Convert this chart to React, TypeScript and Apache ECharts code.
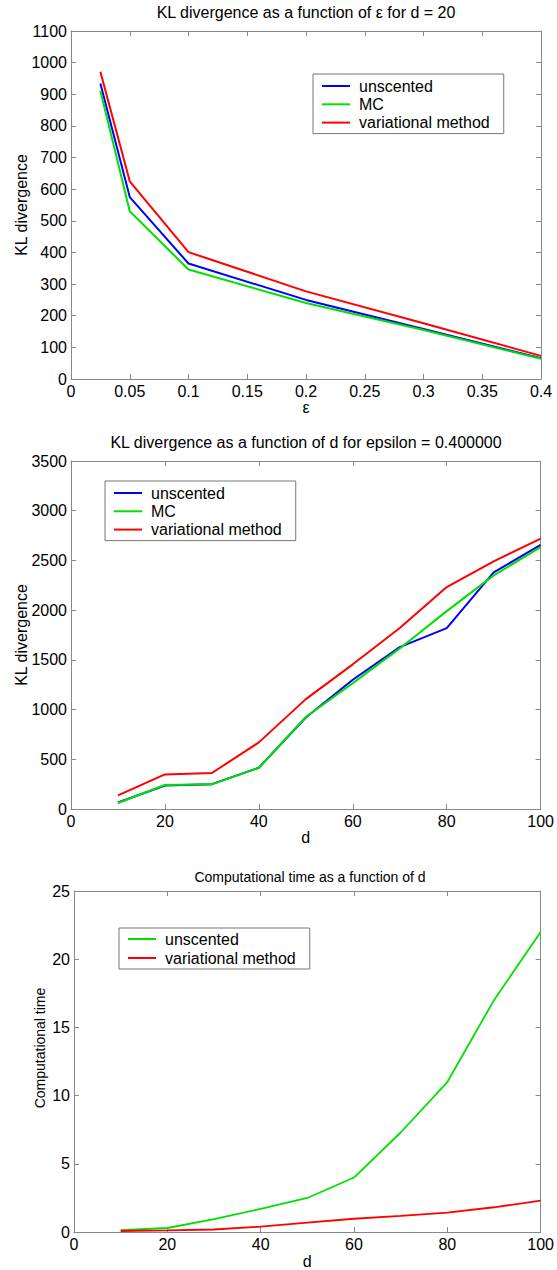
import React, { useEffect, useRef } from "react";
import * as echarts from "echarts";

// ---- data ----
const epsValues = [0.025, 0.05, 0.1, 0.2, 0.3, 0.4];
const klEpsUnscented = [934, 575, 365, 250, 158, 66];
const klEpsMC = [911, 530, 346, 240, 155, 64];
const klEpsVariational = [971, 625, 401, 277, 176, 73];

const dValues = [10, 20, 30, 40, 50, 60, 70, 80, 90, 100];
const klDUnscented = [65, 236, 250, 415, 920, 1300, 1628, 1819, 2380, 2656];
const klDMC = [60, 241, 248, 415, 925, 1266, 1615, 1990, 2350, 2633];
const klDVariational = [137, 348, 362, 670, 1105, 1455, 1820, 2232, 2490, 2720];

const timeUnscented = [0.15, 0.3, 0.95, 1.7, 2.5, 4.0, 7.3, 11.0, 17.0, 22.0];
const timeVariational = [0.08, 0.13, 0.19, 0.4, 0.69, 0.98, 1.19, 1.43, 1.82, 2.3];

const titles = [
  "KL divergence as a function of \u03b5 for d = 20",
  "KL divergence as a function of d for epsilon = 0.400000",
  "Computational time as a function of d",
];
const xNames = ["\u03b5", "d", "d"];
const yNames = ["KL divergence", "KL divergence", "Computational time"];

const FONT = "'Liberation Sans', Arial, Helvetica, sans-serif";
const AXIS_GRAY = "#888888";
const BLUE = "#0000ff";
const GREEN = "#00e000";
const RED = "#ff0000";

const pairs = (xs: number[], ys: number[]) => xs.map((x, i) => [x, ys[i]]);

const grids = [
  { left: 71, top: 31, width: 470, height: 348 },
  { left: 71, top: 461, width: 470, height: 348 },
  { left: 74, top: 891, width: 470, height: 348 },
];

const xRanges = [
  { min: 0, max: 0.4, interval: 0.05 },
  { min: 0, max: 100, interval: 20 },
  { min: 0, max: 100, interval: 20 },
];
const yRanges = [
  { min: 0, max: 1100, interval: 100 },
  { min: 0, max: 3500, interval: 500 },
  { min: 0, max: 25, interval: 5 },
];
const xNameGaps = [20, 18, 16];

function buildOption() {
  const xAxis: any[] = [];
  const yAxis: any[] = [];
  const labelStyle = {
    fontFamily: FONT,
    fontSize: 16,
    color: "#000",
    margin: 4,
    formatter: (v: number) => String(v),
  };
  for (let g = 0; g < 3; g++) {
    const common = {
      type: "value",
      gridIndex: g,
      splitLine: { show: false },
      axisLine: { show: true, onZero: false, lineStyle: { color: AXIS_GRAY, width: 1 } },
      axisTick: { show: true, inside: true, length: 5, lineStyle: { color: AXIS_GRAY } },
    };
    xAxis.push({
      ...common,
      ...xRanges[g],
      position: "bottom",
      name: xNames[g],
      nameLocation: "middle",
      nameGap: xNameGaps[g],
      nameTextStyle: { fontFamily: FONT, fontSize: 16, color: "#000" },
      axisLabel: labelStyle,
    });
    xAxis.push({
      ...common,
      ...xRanges[g],
      position: "top",
      axisLabel: { show: false },
    });
    yAxis.push({
      ...common,
      ...yRanges[g],
      position: "left",
      axisLabel: labelStyle,
    });
    yAxis.push({
      ...common,
      ...yRanges[g],
      position: "right",
      axisLabel: { show: false },
    });
  }

  const line = (name: string, g: number, data: number[][], color: string, width = 2) => ({
    type: "line",
    name,
    xAxisIndex: g * 2,
    yAxisIndex: g * 2,
    data,
    symbol: "none",
    showSymbol: false,
    color,
    lineStyle: { color, width },
    emphasis: { disabled: true },
  });

  const series = [
    line("unscented#1", 0, pairs(epsValues, klEpsUnscented), BLUE),
    line("MC#1", 0, pairs(epsValues, klEpsMC), GREEN),
    line("variational method#1", 0, pairs(epsValues, klEpsVariational), RED),
    line("unscented#2", 1, pairs(dValues, klDUnscented), BLUE),
    line("MC#2", 1, pairs(dValues, klDMC), GREEN),
    line("variational method#2", 1, pairs(dValues, klDVariational), RED),
    line("unscented#3", 2, pairs(dValues, timeUnscented), GREEN, 1.8),
    line("variational method#3", 2, pairs(dValues, timeVariational), RED, 1.8),
  ];

  const legendCommon = {
    orient: "vertical",
    icon: "rect",
    itemWidth: 28,
    itemHeight: 2,
    borderColor: "#777777",
    borderWidth: 1,
    borderRadius: 0,
    backgroundColor: "#ffffff",
    selectedMode: false,
    formatter: (n: string) => n.split("#")[0],
    textStyle: { fontFamily: FONT, fontSize: 16, color: "#000", padding: [0, 0, 0, 4] },
  };

  const legend = [
    {
      ...legendCommon,
      left: 313,
      top: 74,
      itemGap: 2.3,
      padding: [4, 14, 3, 9],
      data: ["unscented#1", "MC#1", "variational method#1"],
    },
    {
      ...legendCommon,
      left: 105,
      top: 481,
      itemGap: 2.3,
      padding: [4, 14, 3, 9],
      data: ["unscented#2", "MC#2", "variational method#2"],
    },
    {
      ...legendCommon,
      left: 119,
      top: 928,
      itemGap: 3,
      padding: [3, 14, 3, 9],
      data: ["unscented#3", "variational method#3"],
    },
  ];

  const title = [
    { text: titles[0], left: 306, top: 4, textAlign: "center", padding: 0,
      textStyle: { fontFamily: FONT, fontSize: 16, fontWeight: "normal", color: "#000" } },
    { text: titles[1], left: 306, top: 434, textAlign: "center", padding: 0,
      textStyle: { fontFamily: FONT, fontSize: 16, fontWeight: "normal", color: "#000" } },
    { text: titles[2], left: 310, top: 870, textAlign: "center", padding: 0,
      textStyle: { fontFamily: FONT, fontSize: 14, fontWeight: "normal", color: "#000" } },
  ];

  const yNamePos = [
    { x: 21, y: 205, size: 16 },
    { x: 21, y: 635, size: 16 },
    { x: 40, y: 1048, size: 14 },
  ];
  const graphic = yNamePos.map((p, i) => ({
    type: "text",
    x: p.x,
    y: p.y,
    rotation: Math.PI / 2,
    style: {
      text: yNames[i],
      font: `${p.size}px ${FONT}`,
      fill: "#000",
      align: "center",
      verticalAlign: "middle",
    },
  }));

  return {
    animation: false,
    backgroundColor: "#ffffff",
    title,
    legend,
    grid: grids.map((g) => ({ ...g, containLabel: false })),
    xAxis,
    yAxis,
    series,
    graphic,
  };
}

export default function App() {
  const ref = useRef<HTMLDivElement>(null);
  useEffect(() => {
    if (!ref.current) return;
    const chart = echarts.init(ref.current, undefined, { renderer: "svg" });
    chart.setOption(buildOption() as any);
    return () => chart.dispose();
  }, []);
  return (
    <div
      ref={ref}
      style={{ position: "absolute", left: 0, top: 0, width: 557, height: 1270, background: "#fff" }}
    />
  );
}
